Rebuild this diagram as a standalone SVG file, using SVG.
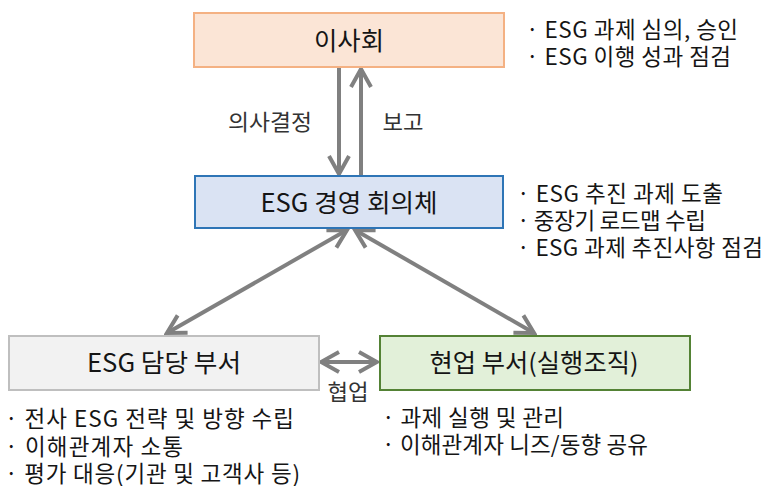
<svg xmlns="http://www.w3.org/2000/svg" width="766" height="486" viewBox="0 0 766 486">
<style>
text{font-family:"Noto Sans CJK KR","Noto Sans",sans-serif;fill:#151515}
.t{font-size:25px;text-anchor:middle}
.s{font-size:22.5px}
.l{font-size:22px;fill:#333;text-anchor:middle}
.c{stroke:#808080;stroke-width:4;fill:none}
</style>
<defs>
<marker id="ah" markerUnits="userSpaceOnUse" markerWidth="24" markerHeight="24" viewBox="0 0 24 24" refX="21" refY="12" orient="auto-start-reverse">
<path d="M3,2 L21,12 L3,22" fill="none" stroke="#808080" stroke-width="4"/>
</marker>
</defs>
<g id="connectors">
<line class="c" x1="339" y1="68" x2="339" y2="174" marker-end="url(#ah)"/>
<line class="c" x1="361" y1="175" x2="361" y2="69" marker-end="url(#ah)"/>
<line class="c" x1="347" y1="230" x2="167" y2="333" marker-start="url(#ah)" marker-end="url(#ah)"/>
<line class="c" x1="355" y1="230" x2="534" y2="333" marker-start="url(#ah)" marker-end="url(#ah)"/>
<line class="c" x1="321" y1="362" x2="377" y2="362" marker-start="url(#ah)" marker-end="url(#ah)"/>
<text class="l" x="270" y="130" textLength="84" lengthAdjust="spacingAndGlyphs">의사결정</text>
<text class="l" x="403" y="130" textLength="41" lengthAdjust="spacingAndGlyphs">보고</text>
<text class="l" x="348" y="400" textLength="41" lengthAdjust="spacingAndGlyphs">협업</text>
</g>
<g id="board">
<rect x="194" y="13" width="310" height="54" fill="#FBE5D6" stroke="#F4B183" stroke-width="2"/>
<text class="t" x="349" y="50" textLength="70" lengthAdjust="spacingAndGlyphs">이사회</text>
<text class="s" x="526" y="38" textLength="212" lengthAdjust="spacing">· ESG 과제 심의, 승인</text>
<text class="s" x="526" y="65" textLength="205" lengthAdjust="spacing">· ESG 이행 성과 점검</text>
</g>
<g id="committee">
<rect x="195" y="176" width="308" height="52" fill="#DAE3F3" stroke="#2E75B6" stroke-width="2"/>
<text class="t" x="349" y="212" textLength="177" lengthAdjust="spacingAndGlyphs">ESG 경영 회의체</text>
<text class="s" x="517" y="202" textLength="206" lengthAdjust="spacing">· ESG 추진 과제 도출</text>
<text class="s" x="517" y="229" textLength="189" lengthAdjust="spacing">· 중장기 로드맵 수립</text>
<text class="s" x="517" y="256" textLength="246" lengthAdjust="spacing">· ESG 과제 추진사항 점검</text>
</g>
<g id="esg-dept">
<rect x="9" y="336" width="310" height="54" fill="#F2F2F2" stroke="#BFBFBF" stroke-width="2"/>
<text class="t" x="164" y="372" textLength="154" lengthAdjust="spacingAndGlyphs">ESG 담당 부서</text>
<text class="s" x="5" y="427" textLength="289" lengthAdjust="spacing">· 전사 ESG 전략 및 방향 수립</text>
<text class="s" x="5" y="455" textLength="178" lengthAdjust="spacing">· 이해관계자 소통</text>
<text class="s" x="5" y="482" textLength="295" lengthAdjust="spacing">· 평가 대응(기관 및 고객사 등)</text>
</g>
<g id="field-dept">
<rect x="380" y="336" width="310" height="54" fill="#E2F0D9" stroke="#548235" stroke-width="2"/>
<text class="t" x="534" y="372" textLength="209" lengthAdjust="spacingAndGlyphs">현업 부서(실행조직)</text>
<text class="s" x="382" y="426" textLength="182" lengthAdjust="spacing">· 과제 실행 및 관리</text>
<text class="s" x="382" y="453" textLength="266" lengthAdjust="spacing">· 이해관계자 니즈/동향 공유</text>
</g>
</svg>
